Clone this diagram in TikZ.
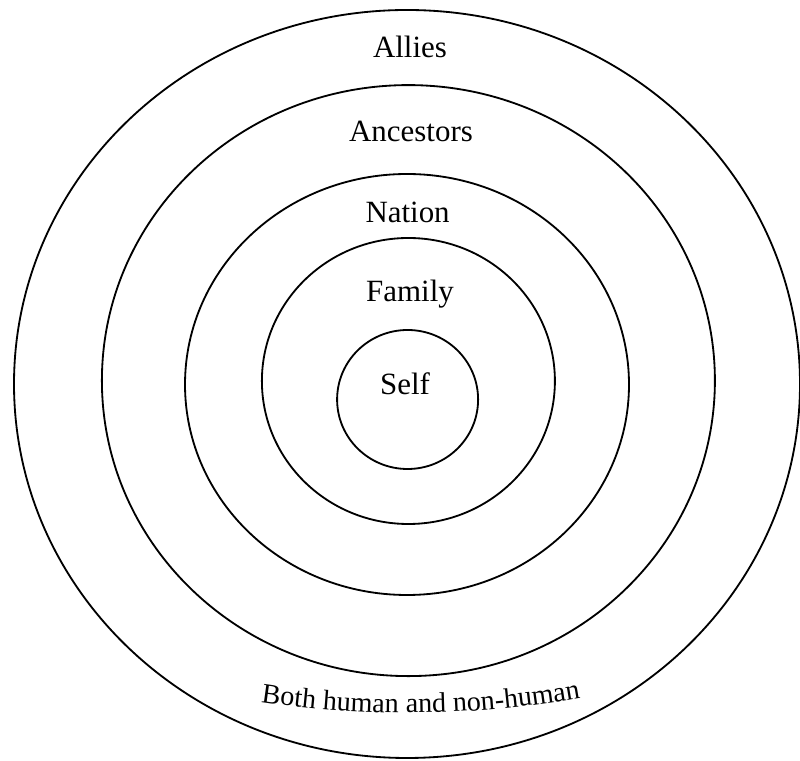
\documentclass[tikz,border=0pt]{standalone}
\usepackage{fontspec}
\setmainfont{Liberation Serif}
\usetikzlibrary{shapes.geometric,decorations.text}

\begin{document}
\begin{tikzpicture}[
  every node/.style={font=\fontsize{22}{26}\selectfont},
  ring/.style={draw,ellipse,line width=1.3pt,inner sep=0pt},
  lbl/.style={anchor=base,inner sep=0pt},
]
  \useasboundingbox (0,0) rectangle (20,19.025);
  % Ring 1
  \node[ring,minimum width=19.65cm,minimum height=18.7cm] (allies) at (10.175, 9.425) {};
  % Ring 2
  \node[ring,minimum width=15.325cm,minimum height=14.775cm] (ancestors) at (10.21, 9.51) {};
  % Ring 3
  \node[ring,minimum width=11.1cm,minimum height=10.525cm] (nation) at (10.175, 9.4125) {};
  % Ring 4
  \node[ring,minimum width=7.325cm,minimum height=7.15cm] (family) at (10.21, 9.5) {};
  % Ring 5
  \node[ring,minimum width=3.525cm,minimum height=3.475cm] (self) at (10.19, 9.0375) {};
  % Labels
  \node[lbl] (alliestext) at (10.25, 17.575) {Allies};
  \node[lbl] (ancestorstext) at (10.275, 15.475) {Ancestors};
  \node[lbl] (nationtext) at (10.19, 13.45) {Nation};
  \node[lbl] (familytext) at (10.25, 11.48) {Family};
  \node[lbl] (selftext) at (10.125, 9.15) {Self};
  % Curved note
  \path[decorate,decoration={text along path,text align=center,
        text={|\fontsize{20}{24}\selectfont|Both human and non-human}}]
    (6.178,1.522) arc[start angle=-99.2,end angle=-79.2,radius=25];
\end{tikzpicture}
\end{document}
